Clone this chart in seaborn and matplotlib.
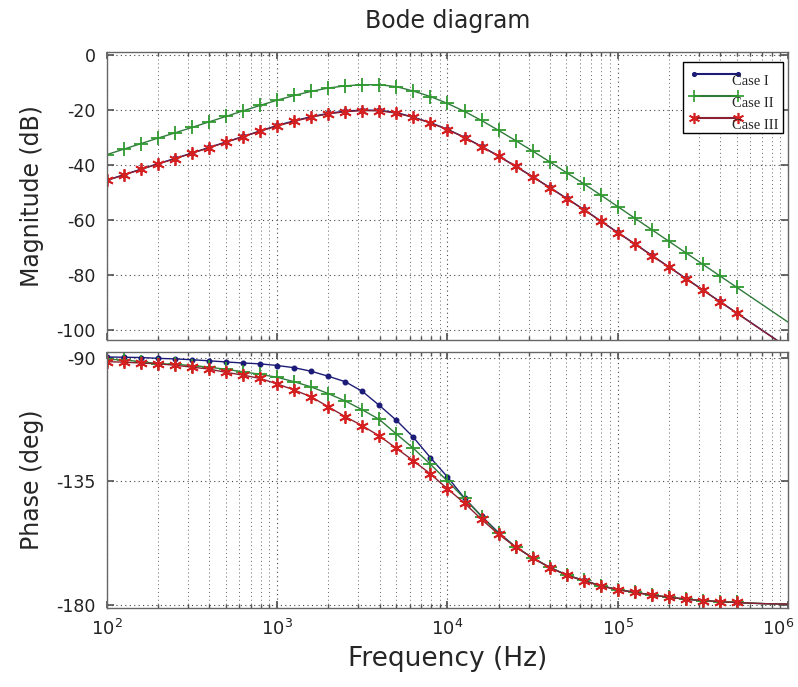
import numpy as np
import pandas as pd
import matplotlib
matplotlib.use("Agg")
import matplotlib.pyplot as plt
from matplotlib.lines import Line2D
from matplotlib.ticker import LogLocator, FixedLocator, NullFormatter
from matplotlib.transforms import ScaledTranslation
import seaborn as sns

# ---------------- data ----------------
log_freq = [2.0, 2.1, 2.2, 2.3, 2.4, 2.5, 2.6, 2.7, 2.8, 2.9,
            3.0, 3.1, 3.2, 3.3, 3.4, 3.5, 3.6, 3.7, 3.8, 3.9,
            4.0, 4.1, 4.2, 4.3, 4.4, 4.5, 4.6, 4.7, 4.8, 4.9,
            5.0, 5.1, 5.2, 5.3, 5.4, 5.5, 5.6, 5.7, 5.8, 5.9, 6.0]

mag_case1 = [-45.5, -43.5, -41.5, -39.5, -37.6, -35.6, -33.6, -31.6, -29.6, -27.6,
             -25.6, -23.9, -22.4, -21.2, -20.4, -20.0, -20.1, -20.9, -22.6, -24.6,
             -27.0, -29.9, -33.2, -36.7, -40.4, -44.2, -48.1, -52.1, -56.1, -60.3,
             -64.5, -68.6, -72.8, -77.0, -81.2, -85.4, -89.6, -93.8, -98.0, -102.2, -106.4]
mag_case2 = [-36.2, -34.2, -32.2, -30.2, -28.3, -26.3, -24.3, -22.3, -20.3, -18.3,
             -16.4, -14.7, -13.2, -12.0, -11.2, -10.8, -10.8, -11.5, -13.1, -15.1,
             -17.6, -20.5, -23.8, -27.4, -31.1, -34.9, -38.8, -42.8, -46.8, -50.9,
             -55.1, -59.3, -63.5, -67.7, -71.9, -76.1, -80.3, -84.5, -88.7, -92.9, -97.1]
mag_case3 = [-45.6, -43.6, -41.6, -39.6, -37.7, -35.7, -33.7, -31.7, -29.7, -27.7,
             -25.8, -24.1, -22.6, -21.4, -20.6, -20.2, -20.3, -21.1, -22.7, -24.7,
             -27.1, -30.0, -33.3, -36.8, -40.5, -44.3, -48.2, -52.2, -56.2, -60.4,
             -64.6, -68.7, -72.9, -77.1, -81.3, -85.5, -89.7, -93.9, -98.1, -102.3, -106.5]

ph_case1 = [-89.8, -89.9, -90.0, -90.3, -90.5, -90.8, -91.2, -91.6, -92.0, -92.3,
            -92.9, -93.7, -95.0, -96.8, -98.8, -102.3, -107.4, -112.8, -119.0, -126.4,
            -133.4, -141.1, -147.6, -153.6, -158.8, -162.8, -166.2, -169.0, -171.0, -172.9,
            -174.3, -175.3, -176.3, -177.1, -177.8, -178.3, -178.7, -179.0, -179.3, -179.5, -179.6]
ph_case2 = [-90.6, -90.9, -91.5, -92.2, -92.5, -92.9, -93.5, -94.3, -95.2, -96.1,
            -97.2, -98.8, -100.7, -103.1, -105.8, -109.0, -112.5, -117.8, -123.0, -128.8,
            -134.9, -141.2, -147.8, -153.9, -158.8, -162.8, -166.2, -169.0, -171.0, -172.9,
            -174.3, -175.3, -176.3, -177.1, -177.8, -178.3, -178.7, -179.0, -179.3, -179.5, -179.6]
ph_case3 = [-91.5, -91.7, -92.0, -92.3, -92.8, -93.5, -94.2, -95.4, -96.4, -97.6,
            -99.6, -101.8, -104.3, -107.9, -111.5, -114.8, -118.5, -123.0, -127.5, -132.3,
            -137.7, -142.9, -148.8, -154.2, -158.8, -162.8, -166.3, -169.1, -171.1, -173.0,
            -174.4, -175.3, -176.3, -177.1, -177.8, -178.3, -178.7, -179.0, -179.3, -179.5, -179.6]

case_labels = ["Case I", "Case II", "Case III"]
x_ticks = [1e2, 1e3, 1e4, 1e5, 1e6]
mag_ticks = [0, -20, -40, -60, -80, -100]
ph_ticks = [-90, -135, -180]

# ---------------- styling ----------------
sns.set_theme(style="white")
plt.rcParams["font.family"] = ["DejaVu Sans"]
plt.rcParams["axes.unicode_minus"] = False

colors = ["#1c1c78", "#2f9a2f", "#d42020"]
line_colors = ["#1c1c78", "#2f7a3a", "#8a2030"]
markers = [".", "+", (6, 2, 0)]
msizes = [6, 10, 9]

freq = [10 ** v for v in log_freq]
n_mark = 38  # markers drawn up to ~5*10^5

fig = plt.figure(figsize=(7.98, 6.87), dpi=100)
ax1 = fig.add_axes([0.134, 0.5051, 0.8535, 0.4192])
ax2 = fig.add_axes([0.134, 0.115, 0.8535, 0.3726])

mags = [mag_case1, mag_case2, mag_case3]
phs = [ph_case1, ph_case2, ph_case3]

for i in range(3):
    for ax, vals in ((ax1, mags[i]), (ax2, phs[i])):
        df = pd.DataFrame({"f": freq, "v": vals})
        sns.lineplot(data=df, x="f", y="v", ax=ax, color=line_colors[i], lw=1.0,
                     marker=markers[i], markersize=msizes[i], markeredgewidth=1.3,
                     markerfacecolor=colors[i], markeredgecolor=colors[i],
                     markevery=slice(0, n_mark), sort=False, estimator=None)

for ax in (ax1, ax2):
    ax.set_xscale("log")
    ax.set_xlim(1e2, 1e6)
    ax.xaxis.set_major_locator(FixedLocator(x_ticks))
    ax.xaxis.set_minor_locator(LogLocator(base=10, subs=np.arange(2, 10)))
    ax.xaxis.set_minor_formatter(NullFormatter())
    ax.grid(True, which="major", axis="both", linestyle=(0, (1, 3)), color="#444444", lw=0.8)
    ax.grid(True, which="minor", axis="x", linestyle=(0, (1, 3)), color="#666666", lw=0.7)
    ax.tick_params(which="both", direction="in", top=True, right=True, bottom=True, left=True,
                   color="#555555")
    ax.tick_params(which="major", length=5)
    ax.tick_params(which="minor", length=3)
    ax.tick_params(axis="y", labelsize=12.5, pad=8, labelcolor="#222222")
    ax.tick_params(axis="x", labelsize=13, pad=8, labelcolor="#222222")
    for s in ax.spines.values():
        s.set_color("#666666")
        s.set_linewidth(1.0)
    ax.set_xlabel("")

ax1.set_ylim(-103.6, 1.1)
ax1.yaxis.set_major_locator(FixedLocator(mag_ticks))
ax1.set_xticklabels([])
ax1.set_ylabel("Magnitude (dB)", fontsize=17, labelpad=9)
ax1.set_title("Bode diagram", fontsize=17, pad=17)

ax2.set_ylim(-181, -88)
ax2.yaxis.set_major_locator(FixedLocator(ph_ticks))
ax2.set_ylabel("Phase (deg)", fontsize=17, labelpad=9)
ax2.set_xlabel("Frequency (Hz)", fontsize=19, labelpad=5)

# keep the last frequency label inside the figure
fig.canvas.draw()
xlabels = ax2.get_xticklabels()
xlabels[-1].set_transform(xlabels[-1].get_transform() +
                          ScaledTranslation(-7 / 72, 0, fig.dpi_scale_trans))

handles = [Line2D([0], [0], color=line_colors[i], lw=1.5, marker=markers[i],
                  markersize=msizes[i] - 1, markerfacecolor=colors[i],
                  markeredgecolor=colors[i], markeredgewidth=1.2)
           for i in range(3)]
leg = ax1.legend(handles, case_labels, loc="upper right", bbox_to_anchor=(0.993, 0.967),
                 borderaxespad=0, numpoints=2, handlelength=3.6, handletextpad=-0.9,
                 fancybox=False, framealpha=1, edgecolor="black", borderpad=0.5,
                 labelspacing=0.6, prop={"family": "Liberation Serif", "size": 10.5})
leg.get_frame().set_linewidth(1.0)
for t in leg.get_texts():
    t.set_transform(t.get_transform() + ScaledTranslation(0.03, -4.5 / 72, fig.dpi_scale_trans))

fig.savefig("out.png", dpi=100, facecolor="white")
